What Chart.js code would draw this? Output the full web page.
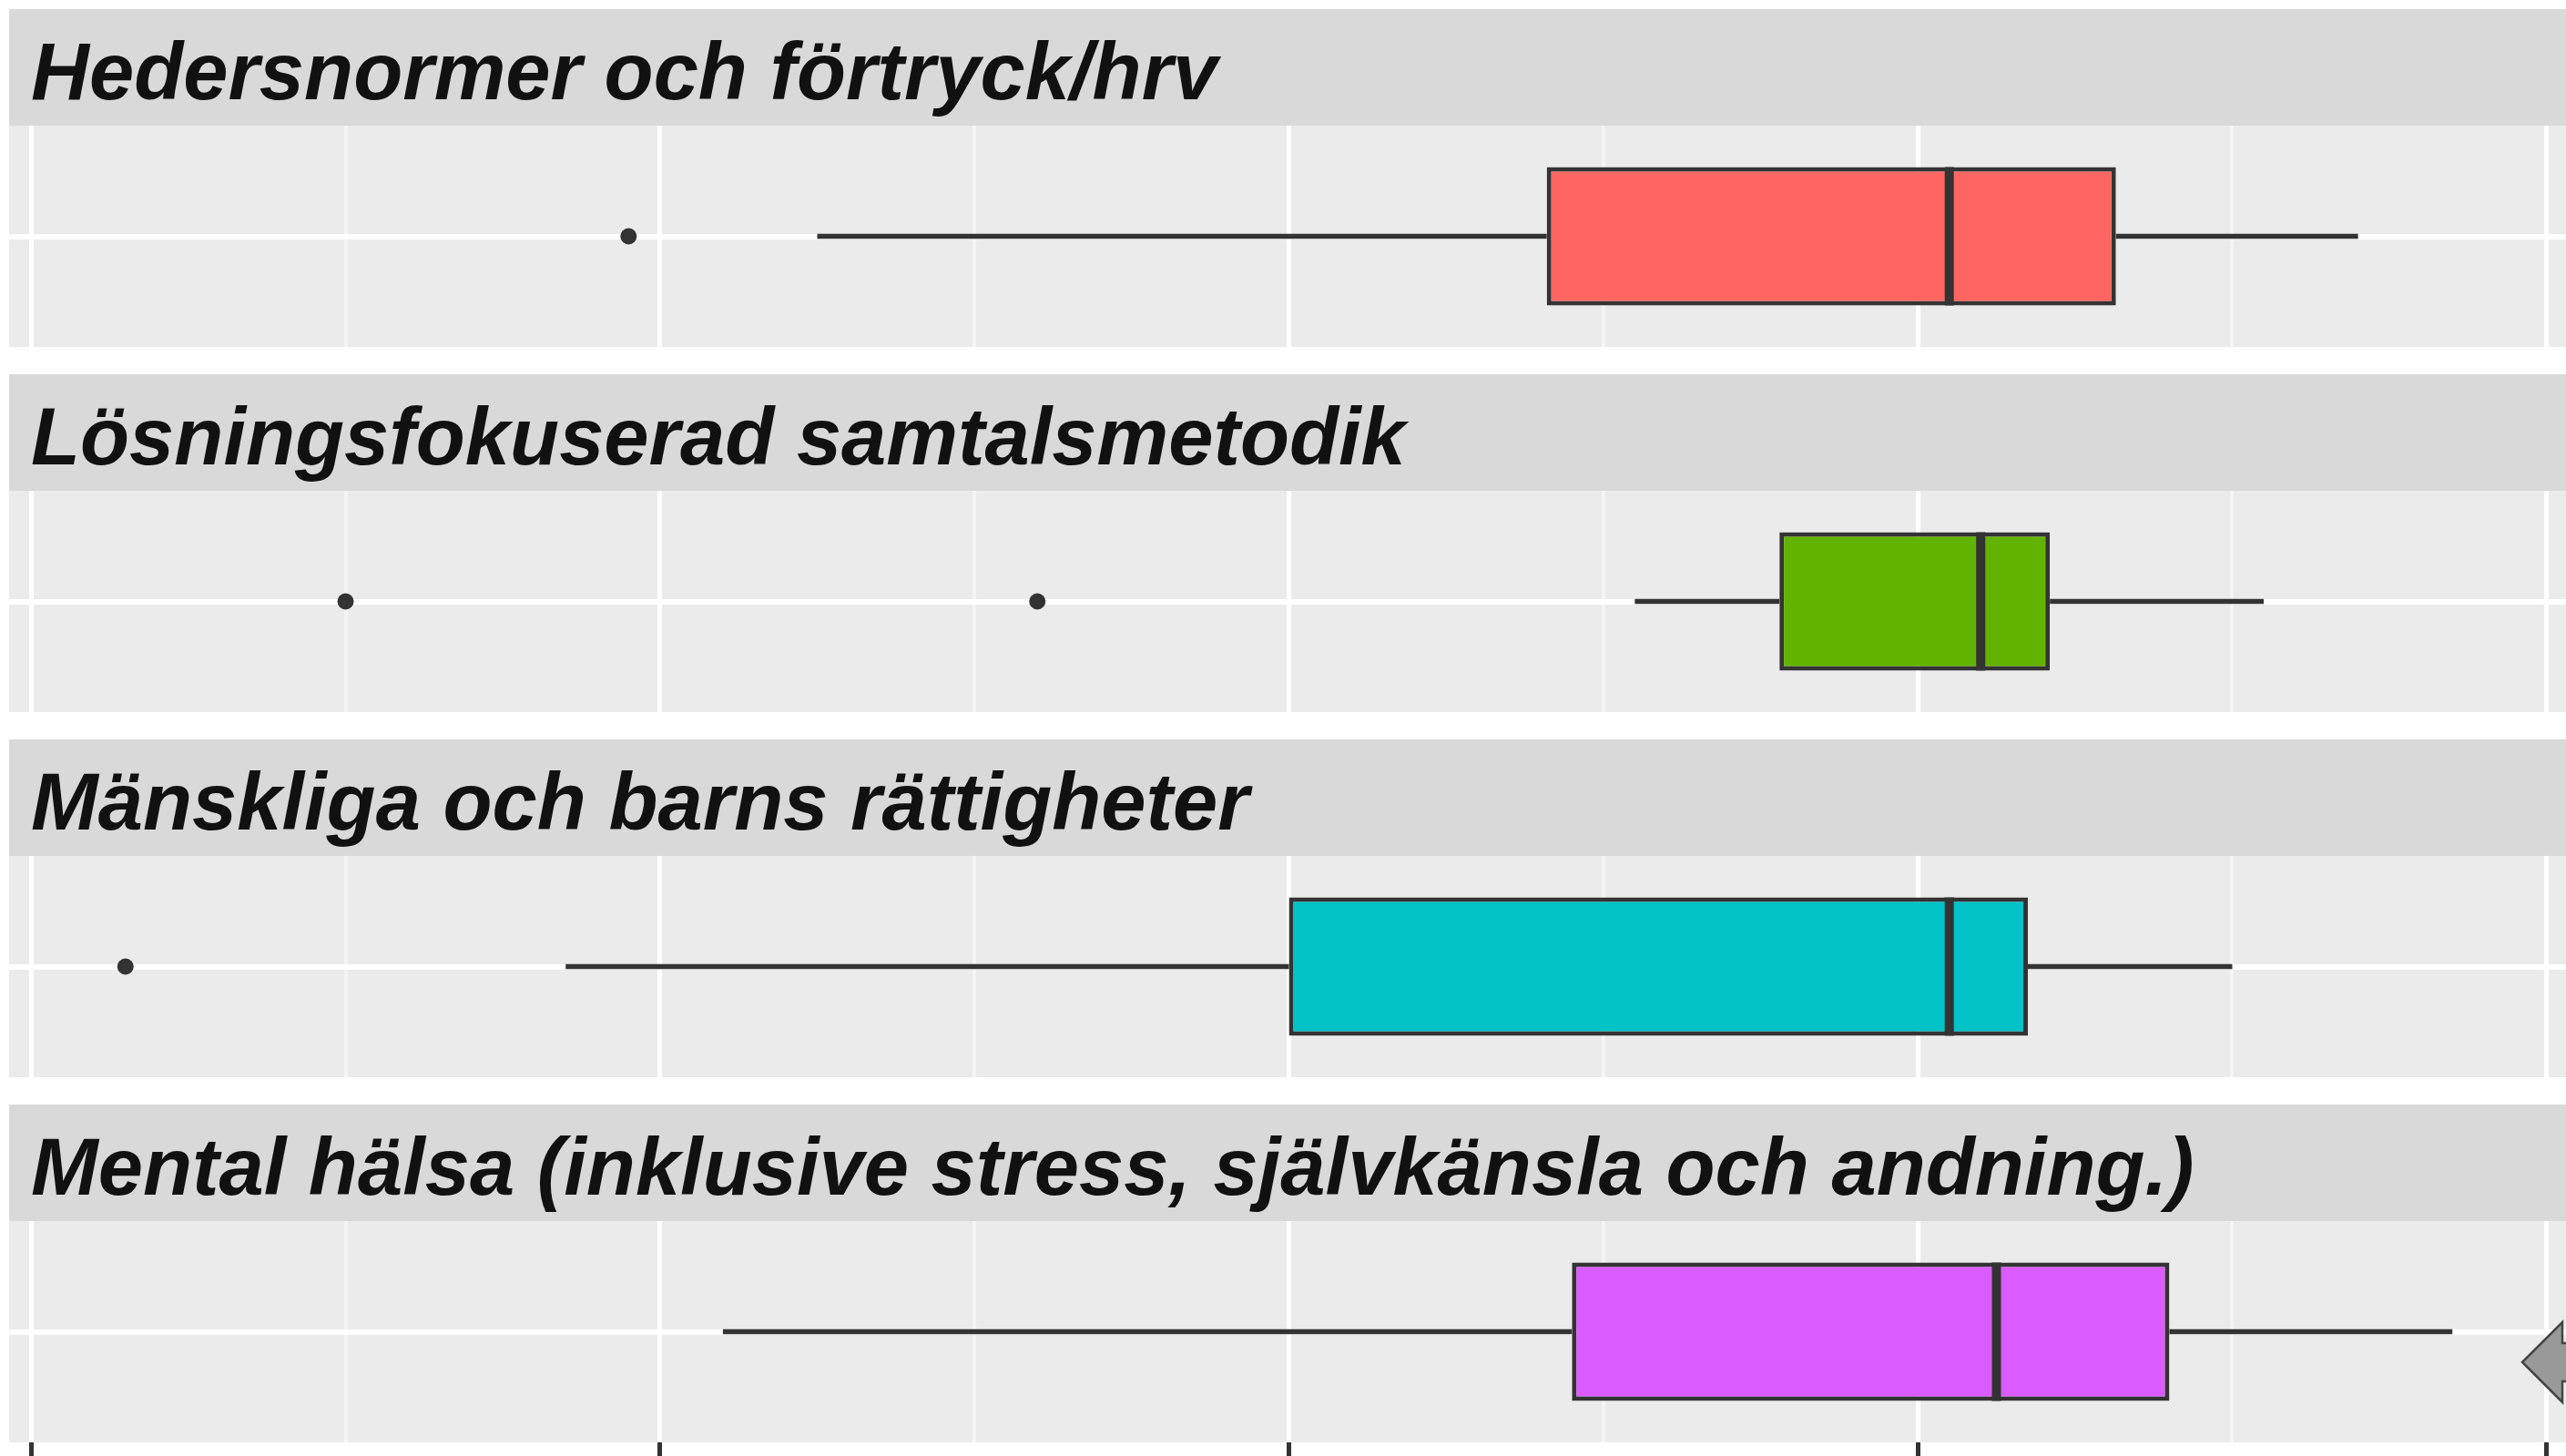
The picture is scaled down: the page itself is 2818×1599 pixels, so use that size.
<!DOCTYPE html>
<html>
<head>
<meta charset="utf-8">
<title>Boxplot per område</title>
<script src="https://cdn.jsdelivr.net/npm/chart.js@4.4.1/dist/chart.umd.min.js"></script>
<style>
  html, body { margin: 0; padding: 0; background: #ffffff; overflow: hidden; width: 2818px; height: 1599px; }
  .strip { position: absolute; left: 10px; width: 2811px; height: 128px; background: #D9D9D9; }
  .strip span { position: absolute; left: 24px; top: 25px; font: italic bold 88.5px "Liberation Sans", Arial, sans-serif; line-height: 1; color: #111111; white-space: nowrap; }
  canvas { position: absolute; left: 10px; }
  #arrow { position: absolute; left: 2760px; top: 1445px; z-index: 5; }
</style>
</head>
<body>
<svg id="arrow" width="70" height="105">
  <polygon points="10,51 54,7 54,30 75,30 75,72 54,72 54,95" fill="#999999" stroke="#444444" stroke-width="2.5" stroke-linejoin="miter"/>
</svg>
<script>
// one facet per panel
const facets = [
  'Hedersnormer och förtryck/hrv',
  'Lösningsfokuserad samtalsmetodik',
  'Mänskliga och barns rättigheter',
  'Mental hälsa (inklusive stress, självkänsla och andning.)'
];
const boxColors = ['#FF6661', '#62B300', '#00C2C7', '#DA5CFF'];

// box statistics
const whiskerLow  = [2.25, 3.55, 1.85, 2.10];
const q1          = [3.41, 3.78, 3.00, 3.45];
const median      = [4.05, 4.10, 4.05, 4.125];
const q3          = [4.315, 4.21, 4.175, 4.40];
const whiskerHigh = [4.70, 4.55, 4.50, 4.85];
const outliers    = [[1.95], [1.50, 2.60], [1.15], []];

// shared x scale (tick labels are cut off in the source)
const xLimits = [0.965, 5.035];
const xMajorBreaks = [1, 2, 3, 4, 5];

const stripH = 128, panelH = 243, step = 401, top0 = 10, panelW = 2811, tickLen = 16;

const isMajor = c => c.tick && xMajorBreaks.includes(c.tick.value);

const panelBg = {
  id: 'panelBg',
  beforeDraw(chart) {
    const a = chart.chartArea, ctx = chart.ctx;
    ctx.save();
    ctx.fillStyle = '#EBEBEB';
    ctx.fillRect(a.left, a.top, a.right - a.left, a.bottom - a.top);
    ctx.restore();
  }
};

facets.forEach((name, i) => {
  const stripTop = top0 + step * i;
  const last = i === facets.length - 1;

  const strip = document.createElement('div');
  strip.className = 'strip';
  strip.style.top = stripTop + 'px';
  const label = document.createElement('span');
  label.textContent = name;
  strip.appendChild(label);
  document.body.appendChild(strip);

  const canvas = document.createElement('canvas');
  canvas.width = panelW;
  canvas.height = panelH + (last ? tickLen : 0);
  canvas.style.top = (stripTop + stripH) + 'px';
  document.body.appendChild(canvas);

  const pt = v => ({x: v, y: name});
  const whisker = {type: 'line', borderColor: '#333333', borderWidth: 5.5, pointRadius: 0, order: 3};

  new Chart(canvas, {
    type: 'bar',
    data: {
      labels: [name],
      datasets: [
        Object.assign({data: [pt(whiskerLow[i]), pt(q1[i])]}, whisker),
        Object.assign({data: [pt(q3[i]), pt(whiskerHigh[i])]}, whisker),
        {
          type: 'bar',
          data: [[q1[i], q3[i]]],
          backgroundColor: boxColors[i],
          borderColor: '#333333',
          borderWidth: 5,
          borderSkipped: false,
          barPercentage: 0.625,
          categoryPercentage: 1,
          order: 2
        },
        {
          type: 'line',
          data: [pt(median[i])],
          showLine: false,
          pointStyle: 'line',
          pointRotation: 90,
          pointRadius: c => c.chart.chartArea ? (c.chart.chartArea.bottom - c.chart.chartArea.top) * 0.3125 : 0,
          pointBorderWidth: 10,
          pointBorderColor: '#333333',
          order: 1
        },
        {
          type: 'line',
          data: outliers[i].map(pt),
          showLine: false,
          pointStyle: 'circle',
          pointRadius: 9,
          pointBackgroundColor: '#333333',
          pointBorderWidth: 0,
          order: 0
        }
      ]
    },
    options: {
      indexAxis: 'y',
      responsive: false,
      animation: false,
      events: [],
      layout: {autoPadding: false, padding: 0},
      plugins: {legend: {display: false}, tooltip: {enabled: false}},
      scales: {
        x: {
          type: 'linear',
          min: xLimits[0],
          max: xLimits[1],
          border: {display: false},
          ticks: {display: false, stepSize: 0.5, includeBounds: false},
          grid: {
            color: c => isMajor(c) ? '#FFFFFF' : '#F4F4F4',
            lineWidth: c => isMajor(c) ? 5 : 4,
            drawTicks: last,
            tickLength: tickLen,
            tickWidth: 5,
            tickColor: c => isMajor(c) ? '#333333' : 'rgba(0,0,0,0)'
          }
        },
        y: {
          type: 'category',
          offset: true,
          border: {display: false},
          ticks: {display: false},
          grid: {offset: false, color: '#FFFFFF', lineWidth: 6, drawTicks: false}
        }
      }
    },
    plugins: [panelBg]
  });
});
</script>
</body>
</html>
